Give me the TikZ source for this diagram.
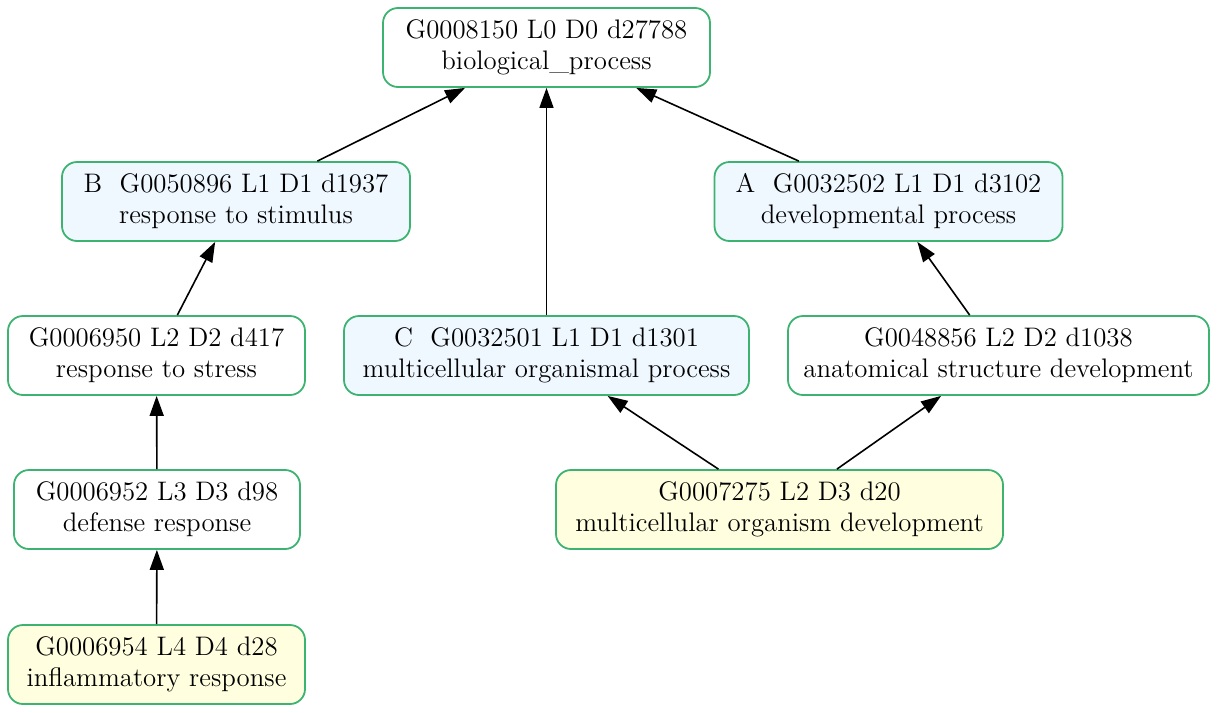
\documentclass[tikz,border=0pt]{standalone}
\usetikzlibrary{arrows.meta}
\definecolor{goedge}{RGB}{60,179,113}
\definecolor{gohitfill}{RGB}{240,248,255}
\definecolor{gostudyfill}{RGB}{255,255,224}
\tikzset{
  goterm/.style={draw=goedge,line width=0.9pt,rounded corners=7.5pt,align=center,
    minimum height=39.5pt,inner sep=2pt,font=\fontsize{13.4pt}{15.5pt}\selectfont},
  gohit/.style={goterm,fill=gohitfill},
  gostudy/.style={goterm,fill=gostudyfill},
  isa/.style={-{Triangle[length=10pt,width=7pt]},line width=0.8pt}
}
\begin{document}
\begin{tikzpicture}[x=0.5pt,y=-0.5pt]
		\useasboundingbox (0,0) rectangle (1218,712);
		% GO terms
		\node[goterm,minimum width=163.5pt] (BP) at (546.5,47.5) {G0008150 L0 D0 d27788\\biological\_process};
		\node[gohit,minimum width=174pt] (B) at (236,201.5) {B~~G0050896 L1 D1 d1937\\response to stimulus};
		\node[gohit,minimum width=174pt] (A) at (888.5,201.5) {A~~G0032502 L1 D1 d3102\\developmental process};
		\node[goterm,minimum width=148.5pt] (Stress) at (156.5,355.5) {G0006950 L2 D2 d417\\response to stress};
		\node[gohit,minimum width=202.5pt] (C) at (546.5,355.5) {C~~G0032501 L1 D1 d1301\\multicellular organismal process};
		\node[goterm,minimum width=210.5pt] (Anat) at (998.5,355.5) {G0048856 L2 D2 d1038\\anatomical structure development};
		\node[goterm,minimum width=143pt] (Defense) at (157,509.5) {G0006952 L3 D3 d98\\defense response};
		\node[gostudy,minimum width=223.5pt] (MultiDev) at (779.5,509.5) {G0007275 L2 D3 d20\\multicellular organism development};
		\node[gostudy,minimum width=148.5pt] (Inflam) at (156.5,664.5) {G0006954 L4 D4 d28\\inflammatory response};
		
		% is_a edges
		\draw[isa] (B) to (BP);
		\draw[isa] (A) to (BP);
		\draw[isa] (C) to (BP);
		\draw[isa] (Stress) to (B);
		\draw[isa] (Anat) to (A);
		\draw[isa] (Defense) to (Stress);
		\draw[isa] (MultiDev) to (C);
		\draw[isa] (MultiDev) to (Anat);
		\draw[isa] (Inflam) to (Defense);
		
		\end{tikzpicture}
\end{document}
